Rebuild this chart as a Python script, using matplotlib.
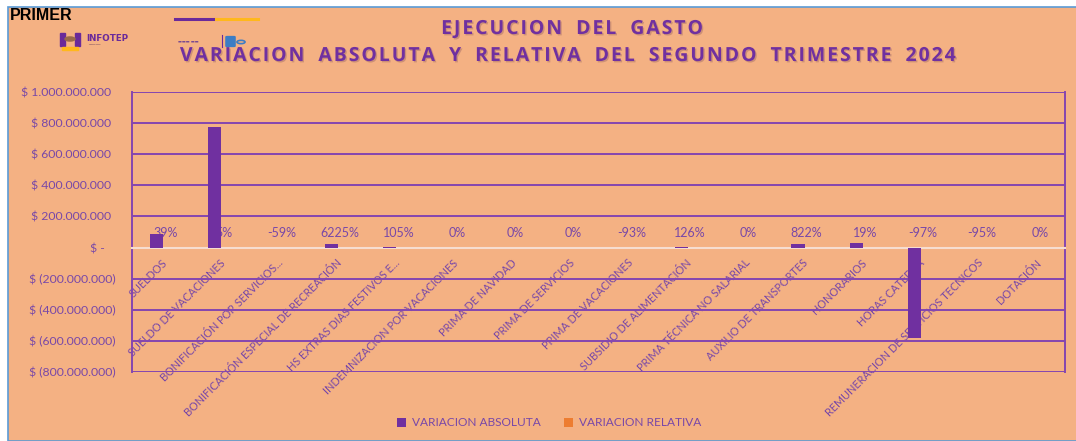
"""Ejecucion del gasto: variacion absoluta y relativa del segundo trimestre 2024."""

import matplotlib

matplotlib.use("Agg")
import matplotlib.patheffects as pe
import matplotlib.pyplot as plt
import numpy as np
from matplotlib.patches import Circle, FancyBboxPatch, Rectangle
from matplotlib.ticker import FuncFormatter, MultipleLocator

CATEGORIES = [
    "SUELDOS",
    "SUELDO DE VACACIONES",
    "BONIFICACIÓN POR SERVICIOS...",
    "BONIFICACIÓN ESPECIAL DE RECREACIÓN",
    "HS EXTRAS DIAS FESTIVOS E...",
    "INDEMNIZACION POR VACACIONES",
    "PRIMA DE NAVIDAD",
    "PRIMA DE SERVICIOS",
    "PRIMA DE VACACIONES",
    "SUBSIDIO DE ALIMENTACIÓN",
    "PRIMA TÉCNICA NO SALARIAL",
    "AUXILIO DE TRANSPORTES",
    "HONORARIOS",
    "HORAS CATEDRA",
    "REMUNERACION DE SERVICIOS TECNICOS",
    "DOTACIÓN",
]
# pesos
VARIACION_ABSOLUTA = [
    84_000_000, 772_000_000, -3_000_000, 24_000_000, 4_000_000, 0, 0, 0,
    -3_000_000, 3_000_000, 0, 22_000_000, 27_000_000, -582_000_000, -5_000_000, 0,
]
# ratio (1.0 = 100%); the second one is hidden behind its bar
VARIACION_RELATIVA = [
    0.39, 0.05, -0.59, 62.25, 1.05, 0.0, 0.0, 0.0,
    -0.93, 1.26, 0.0, 8.22, 0.19, -0.97, -0.95, 0.0,
]
TITLE_1 = "EJECUCION DEL GASTO"
TITLE_2 = "VARIACION ABSOLUTA Y RELATIVA DEL SEGUNDO TRIMESTRE 2024"

PEACH = "#F4B183"
PURPLE = "#7030A0"
TEXT_PURPLE = "#7848A8"
GRID_PURPLE = "#8446B0"
ORANGE = "#ED7D31"
FONT = ["Lato", "DejaVu Sans"]
TITLE_FONT = ["Open Sans", "DejaVu Sans"]

W, H = 1076, 441


def _fx(px):
    return px / W


def _fy(py):
    return 1 - py / H


def _money(v, _pos):
    if abs(v) < 1:
        return "$ -\u2007 "
    s = f"{abs(v):,.0f}".replace(",", ".")
    return f"$ ({s})" if v < 0 else f"$ {s}\u2009 "


def _spaced(text):
    # the slide title is set with open letter spacing
    return "\u200a".join(text).replace(" ", "  ")


def _header(fig):
    fig.add_artist(Rectangle((_fx(8), 0), 1, _fy(7), transform=fig.transFigure,
                             facecolor=PEACH, edgecolor="#5B9BD5", lw=1.2, zorder=-5))
    fig.text(_fx(10), _fy(16), "PRIMER", fontsize=11.5, fontweight="bold",
             family=["Liberation Sans", "DejaVu Sans"], va="center", ha="left")
    # purple / orange rule
    fig.add_artist(plt.Line2D([_fx(175), _fx(216)], [_fy(19)] * 2, color="#6A2A9A", lw=2.2))
    fig.add_artist(plt.Line2D([_fx(216), _fx(258)], [_fy(19)] * 2, color="#FFB81C", lw=2.2))
    # INFOTEP mark
    fig.add_artist(Rectangle((_fx(60), _fy(46)), _fx(5), 13 / H, transform=fig.transFigure,
                             color="#6A2A9A"))
    fig.add_artist(Rectangle((_fx(75), _fy(46)), _fx(5), 13 / H, transform=fig.transFigure,
                             color="#6A2A9A"))
    fig.add_artist(Circle((_fx(70), _fy(39)), 5 / W, transform=fig.transFigure,
                          color="#9A6A4A"))
    fig.add_artist(Rectangle((_fx(62), _fy(50)), _fx(16), 3 / H, transform=fig.transFigure,
                             color="#FFB81C"))
    fig.text(_fx(86), _fy(38.5), "INFOTEP", fontsize=6.3, fontweight="bold", color="#6A2A9A",
             family=["DejaVu Sans"], va="center")
    fig.text(_fx(88), _fy(45), "━━━━━", fontsize=3, color="#B07A70", va="center")
    # government marks
    fig.text(_fx(178), _fy(42), "▬▬▬ ▬▬", fontsize=3, color="#7A4A90", va="center")
    fig.add_artist(plt.Line2D([_fx(222), _fx(222)], [_fy(35), _fy(47)], color="#6A2A9A", lw=0.8))
    fig.add_artist(FancyBboxPatch((_fx(227), _fy(46)), _fx(7), 9 / H, transform=fig.transFigure,
                                  boxstyle="round,pad=0.001", color="#3C7DC4"))
    fig.add_artist(Circle((_fx(241), _fy(42)), 4 / W, transform=fig.transFigure,
                          fill=False, edgecolor="#3C7DC4", lw=1.2))


def render(out_path):
    fig = plt.figure(figsize=(W / 100, H / 100), dpi=100, facecolor="white")
    _header(fig)

    shadow = [pe.SimplePatchShadow(offset=(1, -1), alpha=0.25, shadow_rgbFace="#5A3050"),
              pe.Normal()]
    fig.text(_fx(573), _fy(29), _spaced(TITLE_1), fontsize=14, fontweight="bold",
             color=PURPLE, family=TITLE_FONT, ha="center", va="center", path_effects=shadow)
    fig.text(_fx(571), _fy(56), _spaced(TITLE_2), fontsize=14, fontweight="bold",
             color=PURPLE, family=TITLE_FONT, ha="center", va="center", path_effects=shadow)

    ax = fig.add_axes([_fx(132), 1 - 372 / H, (1065 - 132) / W, (372 - 92) / H])
    ax.set_facecolor("none")
    x = np.arange(len(CATEGORIES))
    width = 0.225
    ax.bar(x - 0.079, VARIACION_ABSOLUTA, width, color=PURPLE, zorder=3,
           label="VARIACION ABSOLUTA")
    rel_bars = ax.bar(x + 0.069, VARIACION_RELATIVA, width, color=ORANGE, zorder=3,
                      snap=False, lw=0, label="VARIACION RELATIVA")
    for rect, val in zip(rel_bars, VARIACION_RELATIVA):
        ax.annotate(f"{val:.0%}", xy=(rect.get_x() + rect.get_width() / 2, 0),
                    xytext=(0, 15), textcoords="offset pixels", ha="center", va="center",
                    fontsize=9, color=TEXT_PURPLE, family=FONT, zorder=2,
                    annotation_clip=False)

    ax.set_xlim(-0.5, len(CATEGORIES) - 0.5)
    ax.set_ylim(-800_000_000, 1_000_000_000)
    ax.yaxis.set_major_locator(MultipleLocator(200_000_000))
    ax.yaxis.set_major_formatter(FuncFormatter(_money))
    ax.grid(axis="y", color=GRID_PURPLE, lw=1.4)
    ax.tick_params(axis="y", length=0, pad=12, labelsize=8.8, labelcolor=TEXT_PURPLE)
    for lab in ax.get_yticklabels():
        lab.set_family(FONT)

    ax.spines["bottom"].set_position(("data", 0))
    ax.spines["bottom"].set_color("#F6DDD0")
    ax.spines["bottom"].set_linewidth(1.5)
    ax.spines["top"].set_visible(False)
    for side in ("left", "right"):
        ax.spines[side].set_color(GRID_PURPLE)
        ax.spines[side].set_linewidth(1.4)
    ax.set_xticks(x)
    ax.set_xticklabels(CATEGORIES, rotation=45, ha="right", rotation_mode="anchor",
                       fontsize=7.8, color=TEXT_PURPLE, family=FONT)
    ax.tick_params(axis="x", length=0, pad=7)

    leg = fig.legend(loc="center", bbox_to_anchor=(_fx(549), _fy(423)), ncol=2, frameon=False,
                     handlelength=0.7, handleheight=0.7, handletextpad=0.5,
                     columnspacing=2.0, prop={"family": FONT, "size": 8.6})
    for t in leg.get_texts():
        t.set_color(TEXT_PURPLE)

    fig.savefig(out_path, dpi=100, facecolor=fig.get_facecolor())
    plt.close(fig)


if __name__ == "__main__":
    render("out.png")
